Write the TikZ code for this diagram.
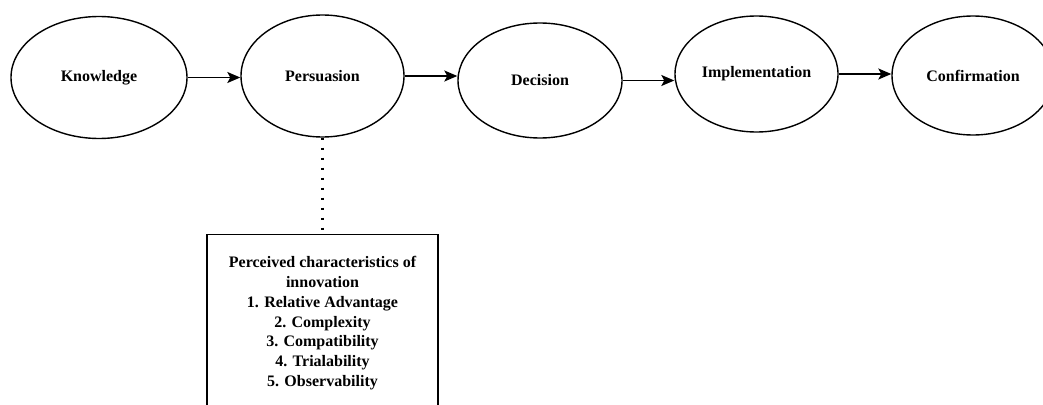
\documentclass[tikz,border=0pt]{standalone}
\usepackage{fontspec}
\setmainfont{Liberation Serif}
\usetikzlibrary{shapes.geometric,arrows.meta}

\tikzset{
  stage/.style={draw, ellipse, line width=1.4pt, inner sep=0pt,
    font=\bfseries\fontsize{16}{20}\selectfont},
  flow/.style={-{Stealth[length=13pt,width=11pt,inset=3pt]}, line width=1.6pt},
  charbox/.style={draw, line width=1.2pt, anchor=north, align=center,
    minimum width=231pt, minimum height=177pt,
    font=\bfseries\fontsize{16}{19.8}\selectfont},
}

\begin{document}
\begin{tikzpicture}[x=1pt,y=-1pt]
    \useasboundingbox (0,0) rectangle (1043,404);
    \node[stage, minimum width=176pt, minimum height=122pt] (know) at (99,77.5) {Knowledge};
    \node[stage, minimum width=163pt, minimum height=122pt] (pers) at (322.5,76) {Persuasion};
    \node[stage, minimum width=164pt, minimum height=115pt] (deci) at (540,80.5) {Decision};
    \node[stage, minimum width=163pt, minimum height=116pt] (impl) at (756.5,74) {Implementation};
    \node[stage, minimum width=162pt, minimum height=119pt] (conf) at (973,75.5) {Confirmation};
    \node[charbox] (chars) at (322.5,234) {Perceived characteristics of\\ innovation\\ 1. Relative Advantage\\ 2. Complexity\\ 3. Compatibility\\ 4. Trialability\\ 5. Observability};
    \draw[flow] (know.east) -- (know.east -| pers.west);
    \draw[flow] (pers.east) -- (pers.east -| deci.west);
    \draw[flow] (deci.east) -- (deci.east -| impl.west);
    \draw[flow] (impl.east) -- (impl.east -| conf.west);
    \draw[line width=2.6pt, dash pattern=on 2.6pt off 7.4pt] (pers.south) -- (chars.north);
\end{tikzpicture}
\end{document}
